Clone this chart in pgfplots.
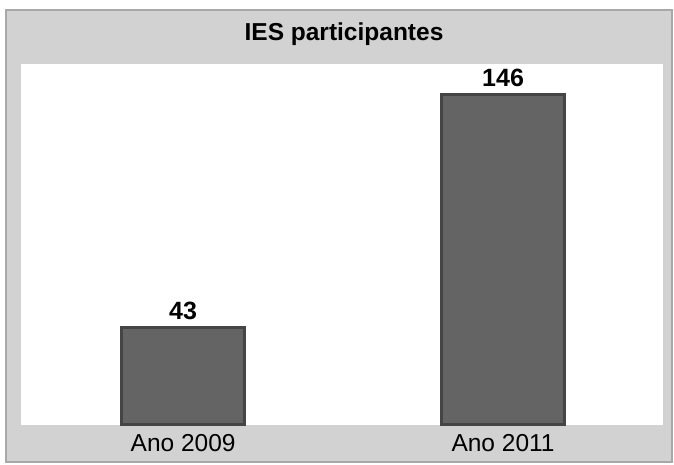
\documentclass[border=0pt]{standalone}
\usepackage{pgfplots}
\pgfplotsset{compat=1.18}
\usepackage{fontspec}
\setmainfont{Liberation Sans}
\definecolor{bg}{HTML}{D2D2D2}
\definecolor{frame}{HTML}{A8A8A8}
\definecolor{barfill}{HTML}{646464}
\definecolor{baredge}{HTML}{454545}
\begin{document}
\begin{tikzpicture}[x=1pt,y=1pt]
\fill[white] (0,0) rectangle (674,465);
\draw[draw=frame, fill=bg, line width=1.5pt] (6,3) rectangle (672,455);
\node[font=\fontsize{24.5}{28}\selectfont\bfseries] at (344,431) {IES participantes};
\begin{axis}[
  at={(20pt,40pt)}, anchor=south west,
  width=643pt, height=362pt, scale only axis,
  xmin=-0.51, xmax=1.5, ymin=0, ymax=160,
  axis background/.style={fill=white},
  axis line style={draw=gray!35},
  xtick={0,1}, xticklabels={Ano 2009, Ano 2011},
  ytick=\empty, major tick length=0pt,
  xticklabel style={font=\fontsize{24.5}{28}\selectfont, yshift=-6pt},
  /pgf/number format/assume math mode=true,
  nodes near coords,
  every node near coord/.append style={font=\fontsize{25}{28}\selectfont\bfseries, text=black, yshift=3pt},
  clip=false,
]
\addplot[ybar, bar width=123pt, fill=barfill, draw=baredge, line width=3pt] coordinates {(0,43) (1,146)};
\end{axis}
\end{tikzpicture}
\end{document}
